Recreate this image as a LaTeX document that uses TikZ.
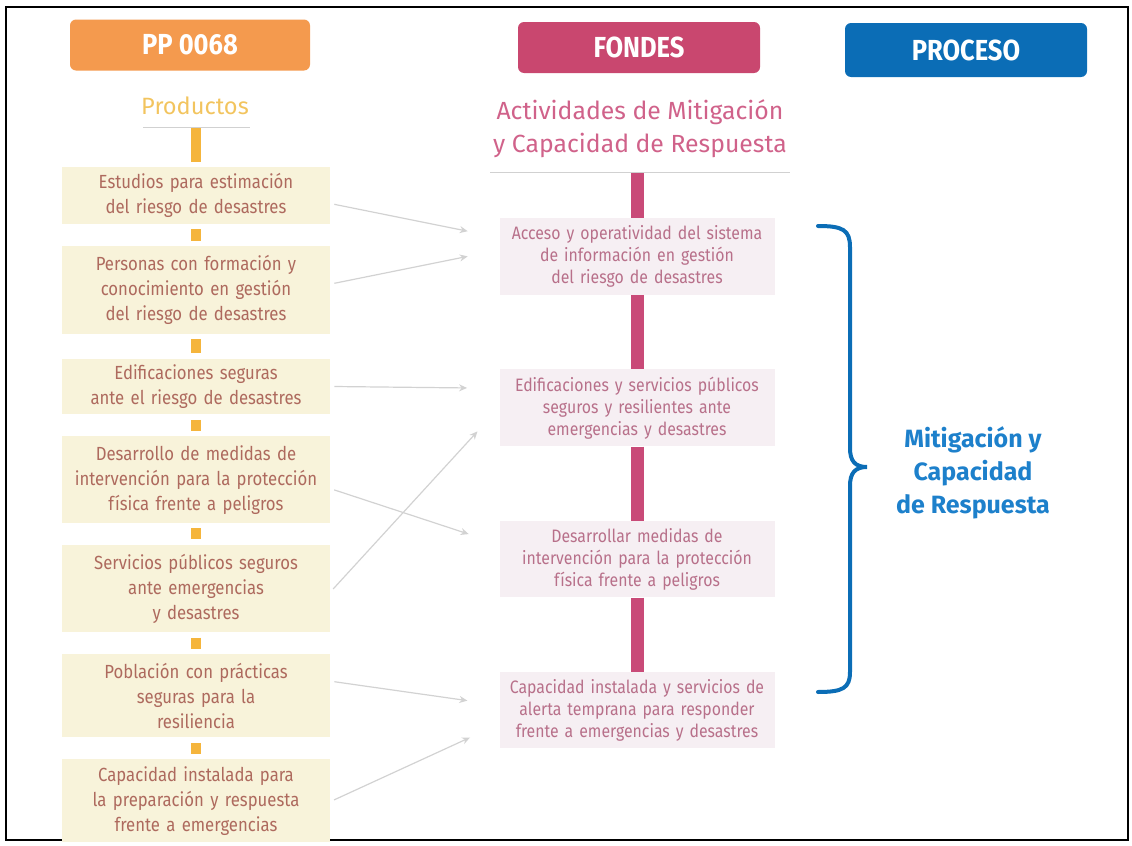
\documentclass[tikz,border=0pt]{standalone}
\usepackage{fontspec}
\setmainfont{Fira Sans}
\newfontfamily\narrowfont[FakeStretch=0.88]{Fira Sans}
\usepackage{xcolor}
\usetikzlibrary{arrows.meta,positioning,calc}
\definecolor{ppOrange}{HTML}{F49A4E}
\definecolor{ppConn}{HTML}{F5B53C}
\definecolor{prodFill}{HTML}{F8F3DA}
\definecolor{prodText}{HTML}{AE6A5E}
\definecolor{prodTitle}{HTML}{F2C45E}
\definecolor{fdPink}{HTML}{C9476F}
\definecolor{fdConn}{HTML}{C94A78}
\definecolor{actFill}{HTML}{F6EFF3}
\definecolor{actText}{HTML}{B8708A}
\definecolor{actTitle}{HTML}{D0628A}
\definecolor{prBlue}{HTML}{0B6DB6}
\definecolor{prText}{HTML}{1D80CB}
\definecolor{arrGray}{HTML}{D2D2D2}
\begin{document}
\begin{tikzpicture}[x=0.5pt,y=-0.5pt,
  node distance=10.5pt,
  head/.style={rectangle, rounded corners=3pt, minimum width=120pt, minimum height=25.5pt,
               text=white, font=\narrowfont\bfseries\fontsize{14.5}{16}\selectfont},
  prod/.style={rectangle, fill=prodFill, text=prodText, minimum width=134pt, text width=131pt,
               align=center, inner xsep=1.5pt, inner ysep=4.5pt,
               font=\narrowfont\fontsize{9.5}{12.5}\selectfont},
  act/.style={rectangle, fill=actFill, text=actText, minimum width=137.5pt, text width=135pt,
              align=center, inner xsep=1.25pt, inner ysep=3.6pt,
              font=\narrowfont\fontsize{9}{11}\selectfont},
  oconn/.style={draw=ppConn, line width=5pt, shorten <=2.5pt, shorten >=2.5pt},
  pconn/.style={draw=fdConn, line width=6.5pt},
  uline/.style={draw=black!18, line width=0.5pt},
  arr/.style={-{Stealth[length=4pt,width=3.5pt]}, draw=arrGray, line width=0.6pt,
              shorten <=2pt, shorten >=16pt}]
  \useasboundingbox (0,0) rectangle (1132,846);
  \draw[line width=1pt] (6,7) rectangle (1128,840);
  \node[head, fill=ppOrange] (pp) at (190,45) {PP 0068};
  \node[head, fill=fdPink, minimum width=121pt] (fd) at (639,47.5) {FONDES};
  \node[head, fill=prBlue, minimum width=121pt, minimum height=27pt] (pr) at (966,50) {PROCESO};
  \node[text=prodTitle, font=\fontsize{11.8}{14}\selectfont] (prodt) at (195,106) {Productos};
  \draw[uline] (143,127) -- (250,127);
  \node[text=actTitle, align=center, font=\fontsize{12.4}{16.5}\selectfont] (actt) at (640,129)
    {Actividades de Mitigación\\y Capacidad de Respuesta};
  \draw[uline] (490,172) -- (790,172);
  \coordinate (pu) at (196,128);
  \coordinate (fu) at (637,173);
  \node[prod, inner ysep=3pt, anchor=north] (l1) at (196,167) {Estudios para estimación\\del riesgo de desastres};
  \node[prod, below=11pt of l1] (l2) {Personas con formación y\\conocimiento en gestión\\del riesgo de desastres};
  \node[prod, inner ysep=3pt, below=12pt of l2] (l3) {Edificaciones seguras\\ante el riesgo de desastres};
  \node[prod, below=of l3] (l4) {Desarrollo de medidas de\\intervención para la protección\\física frente a peligros};
  \node[prod, below=of l4] (l5) {Servicios públicos seguros\\ante emergencias\\y desastres};
  \node[prod, below=of l5] (l6) {Población con prácticas\\seguras para la\\resiliencia};
  \node[prod, inner ysep=3.5pt, below=of l6] (l7) {Capacidad instalada para\\la preparación y respuesta\\frente a emergencias};
  \node[act, anchor=north] (r1) at (637,218) {Acceso y operatividad del sistema\\de información en gestión\\del riesgo de desastres};
  \node[act, below=37pt of r1] (r2) {Edificaciones y servicios públicos\\seguros y resilientes ante\\emergencias y desastres};
  \node[act, below=37pt of r2] (r3) {Desarrollar medidas de\\intervención para la protección\\física frente a peligros};
  \node[act, below=37pt of r3] (r4) {Capacidad instalada y servicios de\\alerta temprana para responder\\frente a emergencias y desastres};
  \draw[oconn, shorten <=0pt] (pu) -- (l1);
  \draw[oconn] (l1) -- (l2);
  \draw[oconn] (l2) -- (l3);
  \draw[oconn] (l3) -- (l4);
  \draw[oconn] (l4) -- (l5);
  \draw[oconn] (l5) -- (l6);
  \draw[oconn] (l6) -- (l7);
  \draw[pconn] (fu) -- (r1);
  \draw[pconn] (r1) -- (r2);
  \draw[pconn] (r2) -- (r3);
  \draw[pconn] (r3) -- (r4);
  \draw[arr] ($(l1.east)+(0,8)$) -- ($(r1.west)+(0,-19)$);
  \draw[arr] ($(l2.east)+(0,-6)$) -- ($(r1.west)+(0,-6.5)$);
  \draw[arr] (l3.east) -- ($(r2.west)+(0,-19.5)$);
  \draw[arr] ($(l4.east)+(0,9)$) -- ($(r3.west)+(0,-15)$);
  \draw[arr] ($(l5.east)+(0,3.5)$) -- (r2.west);
  \draw[arr] ($(l6.east)+(0,-14.5)$) -- ($(r4.west)+(0,-5)$);
  \draw[arr] ($(l7.east)+(0,1)$) -- ($(r4.west)+(0,14)$);
  \draw[prBlue, line width=2pt, line cap=round]
    (818,226) .. controls (843,226) and (850,230) .. (850,247) -- (850,448)
    .. controls (850,461) and (855,467) .. (867,467)
    .. controls (855,467) and (850,473) .. (850,486) -- (850,672)
    .. controls (850,688) and (843,692) .. (818,692);
  \node[text=prText, align=center, font=\bfseries\fontsize{12.5}{16.5}\selectfont] (proc) at (973,473)
    {Mitigación y\\Capacidad\\de Respuesta};
\end{tikzpicture}
\end{document}
